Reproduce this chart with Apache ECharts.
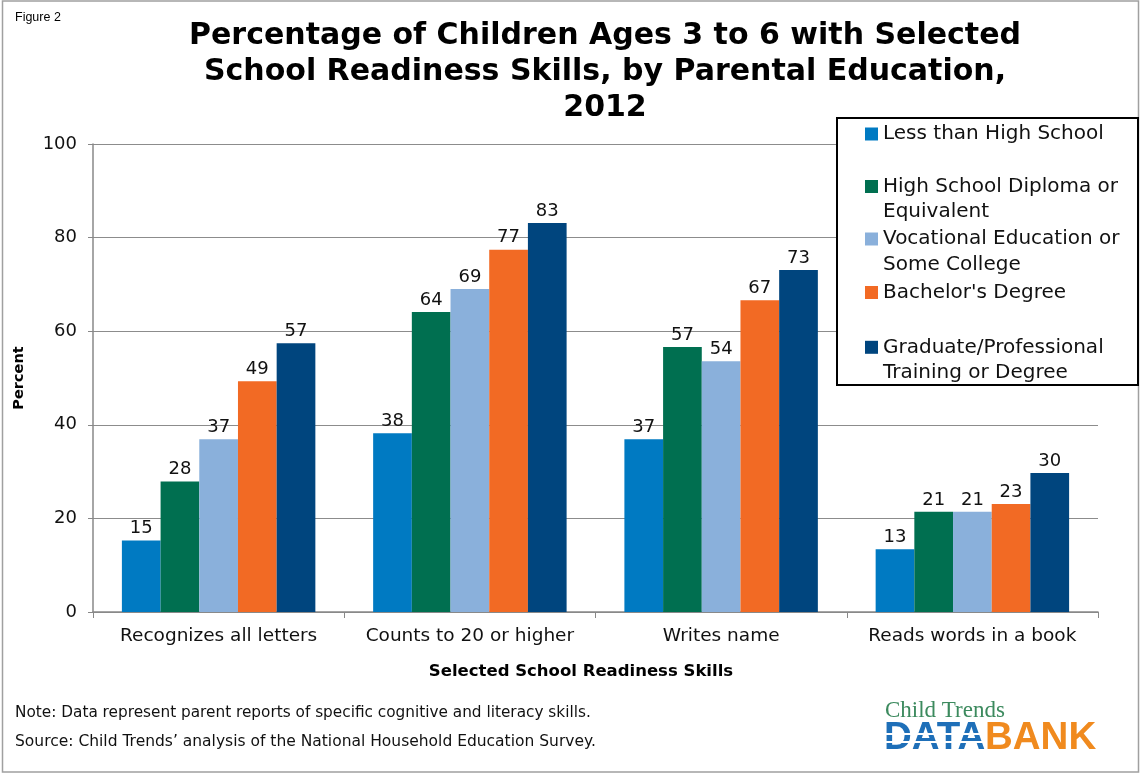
<!DOCTYPE html>
<html>
<head>
<meta charset="utf-8">
<script src="https://cdn.jsdelivr.net/npm/echarts@6/dist/echarts.min.js"></script>
<style>
html,body{margin:0;padding:0;background:#fff;}
#chart{width:1141px;height:774px;}
</style>
</head>
<body>
<div id="chart"></div>
<script>
// ---- data ----
var categories = ['Recognizes all letters', 'Counts to 20 or higher', 'Writes name', 'Reads words in a book'];
var seriesNames = ['Less than High School', 'High School Diploma or Equivalent', 'Vocational Education or Some College', "Bachelor's Degree", 'Graduate/Professional Training or Degree'];
var lessThanHS   = [15.3, 38.2, 36.9, 13.4];
var hsDiploma    = [27.9, 64.1, 56.6, 21.4];
var vocational   = [36.9, 69.0, 53.6, 21.4];
var bachelors    = [49.3, 77.4, 66.6, 23.1];
var graduate     = [57.4, 83.1, 73.1, 29.7];
var yTicks = [0, 20, 40, 60, 80, 100];

var legendLines = [
  ['Less than High School'],
  ['High School Diploma or', 'Equivalent'],
  ['Vocational Education or', 'Some College'],
  ["Bachelor's Degree"],
  ['Graduate/Professional', 'Training or Degree']
];

var colors = ['#007AC2', '#006F50', '#8AB0DB', '#F26A24', '#00457E'];
var allValues = [lessThanHS, hsDiploma, vocational, bachelors, graduate];

var FONT = 'DejaVu Sans';
var LH = 25.4;
var iconCenters = [134, 186.5, 239, 292.5, 347.3];

var legends = seriesNames.map(function (name, i) {
  var lines = legendLines[i];
  var txt = '\u00a0\n' + lines[0] + '\n' + (lines[1] || '\u00a0');
  return {
    data: [name],
    orient: 'vertical',
    left: 865,
    top: iconCenters[i] - LH * 1.5,
    padding: 0,
    itemWidth: 13,
    itemHeight: 13,
    icon: 'rect',
    selectedMode: false,
    z: 6,
    formatter: function () { return txt; },
    textStyle: { fontFamily: FONT, fontSize: 20, color: '#111', lineHeight: LH }
  };
});

var series = seriesNames.map(function (name, i) {
  return {
    name: name,
    type: 'bar',
    data: allValues[i],
    barGap: '0%',
    barCategoryGap: '23%',
    itemStyle: { color: colors[i] },
    label: {
      show: true,
      position: 'top',
      distance: 3,
      fontFamily: FONT,
      fontSize: 18,
      color: '#111',
      formatter: function (p) { return Math.round(p.value); }
    }
  };
});

var chart = echarts.init(document.getElementById('chart'), null, { renderer: 'canvas' });
chart.setOption({
  animation: false,
  backgroundColor: '#fff',
  color: colors,
  title: {
    text: 'Percentage of Children Ages 3 to 6 with Selected\nSchool Readiness Skills, by Parental Education,\n2012',
    left: 600,
    top: 13,
    textAlign: 'center',
    textStyle: { fontFamily: 'DejaVu Sans', fontWeight: 'bold', fontSize: 30, lineHeight: 36, color: '#000' }
  },
  legend: legends,
  grid: { left: 93, right: 43, top: 144, bottom: 162, containLabel: false },
  xAxis: {
    type: 'category',
    data: categories,
    name: 'Selected School Readiness Skills',
    nameLocation: 'middle',
    nameGap: 51,
    nameTextStyle: { fontFamily: FONT, fontWeight: 'bold', fontSize: 16.5, color: '#000', padding: [0, 29, 0, 0] },
    axisLine: { lineStyle: { color: '#888', width: 1.5 } },
    axisTick: { show: true, alignWithLabel: false, length: 6, lineStyle: { color: '#888' } },
    axisLabel: { fontFamily: FONT, fontSize: 18.5, color: '#111', margin: 15, interval: 0 }
  },
  yAxis: {
    type: 'value',
    min: 0,
    max: 100,
    interval: 20,
    name: 'Percent',
    nameLocation: 'middle',
    nameGap: 66,
    nameTextStyle: { fontFamily: FONT, fontWeight: 'bold', fontSize: 14.5, color: '#000' },
    axisLine: { show: true, lineStyle: { color: '#888', width: 1.5 } },
    axisTick: { show: true, length: 5, lineStyle: { color: '#888' } },
    axisLabel: { fontFamily: FONT, fontSize: 18, color: '#111', margin: 16,
      formatter: function (v) { return yTicks.indexOf(v) >= 0 ? String(v) : ''; } },
    splitLine: { show: true, lineStyle: { color: '#8c8c8c', width: 1.2 } }
  },
  series: series,
  graphic: [
    { type: 'rect', shape: { x: 2.5, y: 1, width: 1136, height: 771 }, style: { fill: 'none', stroke: '#a0a0a0', lineWidth: 1.5 }, silent: true, z: -1 },
    { type: 'rect', shape: { x: 837, y: 118, width: 301, height: 267 }, style: { fill: '#fff', stroke: '#000', lineWidth: 2 }, silent: true, z: 5 },
    { type: 'text', left: 15, top: 11, style: { text: 'Figure 2', fontFamily: 'Liberation Sans', fontSize: 12.5, fill: '#000' } },
    { type: 'text', left: 15, top: 706, style: { text: 'Note: Data represent parent reports of specific cognitive and literacy skills.', fontFamily: FONT, fontSize: 15.3, fill: '#111' } },
    { type: 'text', left: 15, top: 734, style: { text: 'Source: Child Trends\u2019 analysis of the National Household Education Survey.', fontFamily: FONT, fontSize: 15.5, fill: '#111' } },
    { type: 'text', left: 885, top: 699, style: { text: 'Child Trends', fontFamily: 'Liberation Serif', fontSize: 23, fill: '#3C8A5E' } },
    { type: 'text', left: 884, top: 719, style: { text: 'DATA', fontFamily: 'Liberation Sans', fontSize: 38.5, fontWeight: 'bold', fill: '#1E6FB8' } },
    { type: 'text', left: 985, top: 719, style: { text: 'BANK', fontFamily: 'Liberation Sans', fontSize: 38.5, fontWeight: 'bold', fill: '#F08A1E' } },
    { type: 'rect', shape: { x: 884, y: 733, width: 100, height: 2 }, style: { fill: '#fff' }, z: 10 },
    { type: 'rect', shape: { x: 884, y: 741, width: 100, height: 2 }, style: { fill: '#fff' }, z: 10 }
  ]
});
</script>
</body>
</html>
